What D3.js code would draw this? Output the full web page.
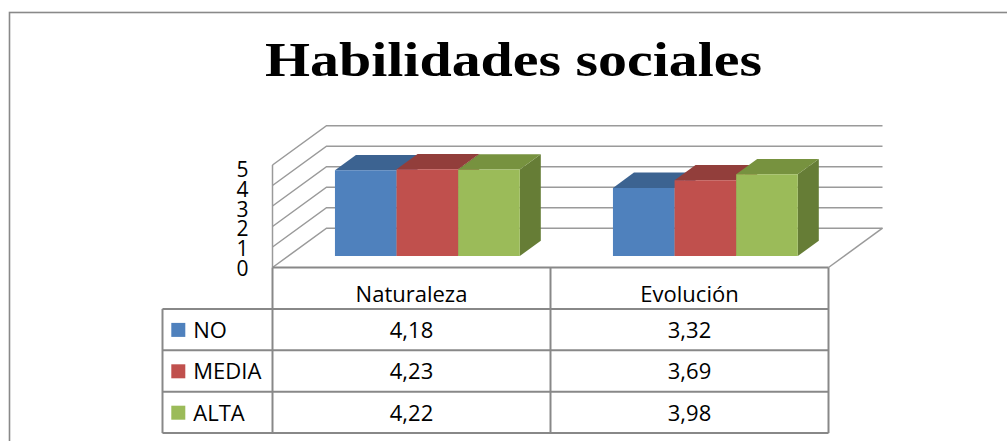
<!DOCTYPE html>
<html>
<head>
<meta charset="utf-8">
<script src="https://cdn.jsdelivr.net/npm/d3@7"></script>
<style>
  html, body { margin: 0; padding: 0; background: #ffffff; }
  svg { display: block; }
</style>
</head>
<body>
<div id="chart"></div>
<script>
// ---- Data ----
const title = "Habilidades sociales";
const categories = ["Naturaleza", "Evolución"];
const seriesNames = ["NO", "MEDIA", "ALTA"];
const valuesNO = [4.18, 3.32];
const valuesMEDIA = [4.23, 3.69];
const valuesALTA = [4.22, 3.98];
const yTicks = [0, 1, 2, 3, 4, 5];

const seriesValues = [valuesNO, valuesMEDIA, valuesALTA];
const colorsFront = ["#4F81BD", "#C0504D", "#9BBB59"];
const colorsTop = ["#3C6391", "#923E3B", "#77923F"];
const colorsSide = ["#355883", "#7F3533", "#667D36"];

// ---- Layout ----
const W = 1007, H = 441;
const svg = d3.select("#chart").append("svg").attr("width", W).attr("height", H);

const floorLeft = 272.5, floorRight = 828.5, floorY = 267.5;
const depthDX = 54, depthDY = -39.3;
const frontDepth = 0.294, backDepth = 0.683;
const fontFam = "'Open Sans', Lato, sans-serif";

const x = d3.scaleBand().domain(categories).range([floorLeft, floorRight]).padding(0);
const xs = d3.scaleBand().domain(seriesNames).range([0, x.bandwidth()]).paddingInner(0).paddingOuter(0.756);
const y = d3.scaleLinear().domain([0, 5]).range([floorY, floorY - 102.5]);
const yLabel = d3.scaleLinear().domain([0, 5]).range([268, 169.7]);

const P = (px, v, d) => [px + depthDX * d, y(v) + depthDY * d];

// Outer frame
svg.append("rect").attr("x", 9.5).attr("y", 12.5).attr("width", 1100).attr("height", 500)
  .attr("fill", "none").attr("stroke", "#898989").attr("stroke-width", 1.6);

// Title
svg.append("text").attr("x", 265).attr("y", 76)
  .attr("font-family", "'Liberation Serif', 'DejaVu Serif', serif")
  .attr("font-weight", "bold").attr("font-size", 49)
  .attr("textLength", 497).attr("lengthAdjust", "spacingAndGlyphs")
  .text(title);

// Walls & gridlines
const grid = svg.append("g").attr("stroke", "#9a9a9a").attr("stroke-width", 1.5).attr("fill", "none");
yTicks.forEach(v => {
  const a = P(floorLeft, v, 0), b = P(floorLeft, v, 1), c = P(floorRight, v, 1);
  grid.append("path").attr("d", `M${a}L${b}L${c}`);
});
grid.append("line").attr("x1", floorLeft).attr("x2", floorLeft).attr("y1", y(5)).attr("y2", y(0));
{
  const a = P(floorRight, 0, 0), b = P(floorRight, 0, 1);
  grid.append("line").attr("x1", a[0]).attr("y1", a[1]).attr("x2", b[0]).attr("y2", b[1]);
}

// Y labels
svg.append("g").selectAll("text").data(yTicks).join("text")
  .attr("x", 248.5).attr("y", d => yLabel(d)).attr("dy", "0.36em")
  .attr("text-anchor", "end")
  .attr("font-family", fontFam).attr("font-size", 21).attr("fill", "#000")
  .text(d => d);

// Bars
const bars = svg.append("g");
categories.forEach((cat, ci) => {
  seriesNames.forEach((s, si) => {
    const v = seriesValues[si][ci];
    const x0 = x(cat) + xs(s), x1 = x0 + xs.bandwidth();
    const f0 = P(x0, 0, frontDepth), f1 = P(x1, 0, frontDepth), f2 = P(x1, v, frontDepth), f3 = P(x0, v, frontDepth);
    const b1 = P(x1, 0, backDepth), b2 = P(x1, v, backDepth), b3 = P(x0, v, backDepth);
    bars.append("path").attr("d", `M${f1}L${b1}L${b2}L${f2}Z`).attr("fill", colorsSide[si]);
    bars.append("path").attr("d", `M${f3}L${f2}L${b2}L${b3}Z`).attr("fill", colorsTop[si]);
    bars.append("path").attr("d", `M${f0}L${f1}L${f2}L${f3}Z`).attr("fill", colorsFront[si]);
  });
});

// Data table
const fmt = d3.formatLocale({decimal: ",", thousands: ".", grouping: [3], currency: ["", "€"]}).format(".2f");
const tableTop = floorY, rowH = 41.4, legendLeft = 162.5;
const rowY = i => tableTop + rowH * (i + 1);
const tbl = svg.append("g").attr("stroke", "#888").attr("stroke-width", 2).attr("fill", "none");
tbl.append("line").attr("x1", floorLeft).attr("x2", floorRight).attr("y1", tableTop).attr("y2", tableTop);
seriesNames.forEach((s, i) => {
  tbl.append("line").attr("x1", legendLeft).attr("x2", floorRight).attr("y1", rowY(i)).attr("y2", rowY(i));
});
tbl.append("line").attr("x1", legendLeft).attr("x2", floorRight).attr("y1", rowY(3)).attr("y2", rowY(3));
tbl.append("line").attr("x1", legendLeft).attr("x2", legendLeft).attr("y1", rowY(0)).attr("y2", rowY(3));
[floorLeft, x(categories[1]), floorRight].forEach(px => {
  tbl.append("line").attr("x1", px).attr("x2", px).attr("y1", tableTop).attr("y2", rowY(3));
});

const textG = svg.append("g").attr("font-family", fontFam).attr("font-size", 22).attr("fill", "#000");
categories.forEach(cat => {
  textG.append("text").attr("x", x(cat) + x.bandwidth() / 2).attr("y", tableTop + 34)
    .attr("text-anchor", "middle").text(cat);
});
seriesNames.forEach((s, si) => {
  const top = rowY(si);
  svg.append("rect").attr("x", 171.3).attr("y", top + 14).attr("width", 14).attr("height", 14).attr("fill", colorsFront[si]);
  textG.append("text").attr("x", 193.3).attr("y", top + 29).text(s);
  categories.forEach((cat, ci) => {
    textG.append("text").attr("x", x(cat) + x.bandwidth() / 2).attr("y", top + 29)
      .attr("text-anchor", "middle").text(fmt(seriesValues[si][ci]));
  });
});
</script>
</body>
</html>
